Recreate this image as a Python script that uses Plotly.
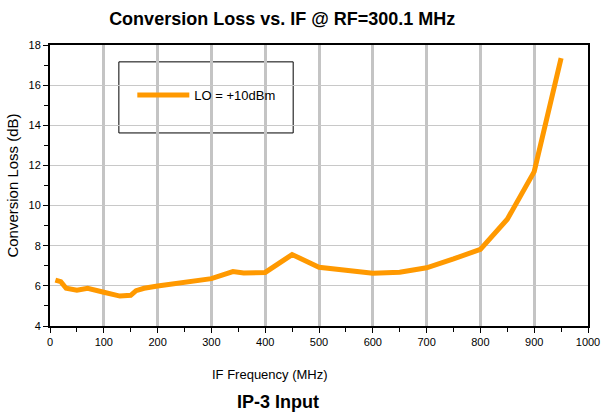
import plotly.graph_objects as go

# IF frequency (MHz) and conversion loss (dB)
if_freq = [10, 20, 30, 50, 70, 85, 100, 130, 150, 160, 175, 200, 240, 260, 300,
           340, 360, 400, 450, 500, 550, 600, 650, 700, 750, 800, 850, 900, 950]
conv_loss = [6.29, 6.21, 5.88, 5.78, 5.88, 5.76, 5.68, 5.49, 5.53, 5.76, 5.88, 5.99,
             6.13, 6.26, 6.36, 6.71, 6.64, 6.67, 7.56, 6.93, 6.78, 6.63, 6.68, 6.90,
             7.34, 7.82, 9.32, 11.69, 17.35]
series_name = "LO = +10dBm"

font_family = "Liberation Sans, Arial, sans-serif"

fig = go.Figure()

fig.add_trace(go.Scatter(
    x=if_freq,
    y=conv_loss,
    mode='lines',
    name=series_name,
    line=dict(color='#FF9900', width=5),
))

# legend frame
fig.add_shape(type='rect', xref='paper', yref='paper',
              x0=0.128, x1=0.452, y0=0.687, y1=0.940,
              line=dict(color='black', width=1), fillcolor='white', layer='below')

fig.update_layout(
    width=603, height=416,
    margin=dict(l=50, r=15, t=45, b=90),
    paper_bgcolor='white',
    plot_bgcolor='white',
    font=dict(family=font_family, size=11, color='black'),
    title=dict(text='<b>Conversion Loss vs. IF @ RF=300.1 MHz</b>',
               x=0.468, xanchor='center', y=0.955, yanchor='middle',
               font=dict(size=18, color='black')),
    showlegend=True,
    legend=dict(x=0.153, y=0.822, xanchor='left', yanchor='middle',
                bgcolor='rgba(0,0,0,0)', borderwidth=0,
                itemwidth=52, font=dict(size=13)),
    xaxis=dict(
        range=[0, 1000], dtick=100, tick0=0, automargin=False,
        showgrid=True, gridcolor='#c4c4c4', gridwidth=2.5,
        showline=True, linecolor='black', linewidth=2, mirror=True,
        ticks='outside', ticklen=5, tickcolor='black', tickwidth=1,
        minor=dict(dtick=50, ticks='outside', ticklen=4, tickcolor='black', showgrid=False),
        zeroline=False,
    ),
    yaxis=dict(
        range=[4, 18], dtick=2, tick0=4, automargin=False,
        showgrid=True, gridcolor='#c8c8c8', gridwidth=1,
        showline=True, linecolor='black', linewidth=2, mirror=True,
        ticks='outside', ticklen=5, tickcolor='black', tickwidth=1,
        minor=dict(dtick=1, ticks='outside', ticklen=4, tickcolor='black', showgrid=False),
        zeroline=False,
        title=dict(text='Conversion Loss (dB)', font=dict(size=15), standoff=6),
    ),
)

# x-axis title sits left of centre in the original, so place it by hand
fig.add_annotation(text='IF Frequency (MHz)', xref='paper', yref='paper',
                   x=0.409, y=-0.174, xanchor='center', yanchor='middle',
                   showarrow=False, font=dict(size=13, color='black'))

fig.add_annotation(text='<b>IP-3 Input</b>', xref='paper', yref='paper',
                   x=0.424, y=-0.27, xanchor='center', yanchor='middle',
                   showarrow=False, font=dict(size=18, color='black'))

# drop the page's default body margin so the figure fills the window
fig.write_html("out.html", config={'displayModeBar': False},
               post_script="document.body.style.margin='0';")
